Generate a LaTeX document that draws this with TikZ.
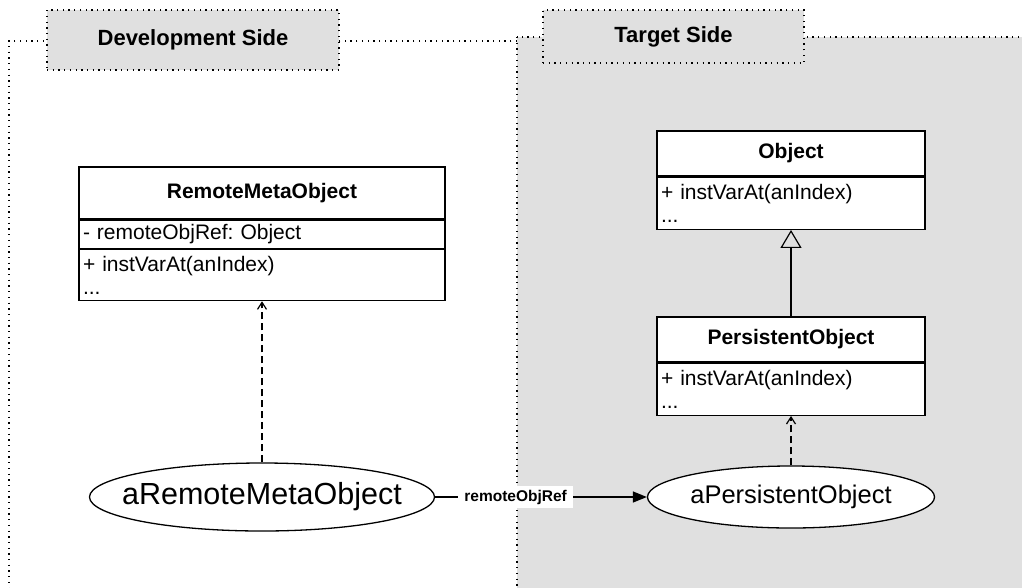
\documentclass[tikz,border=0pt]{standalone}
\usepackage{fontspec}
\setmainfont{Liberation Sans}
\usetikzlibrary{shapes.geometric,arrows.meta,positioning}

\definecolor{sidegray}{RGB}{224,224,224}

\begin{document}
\frenchspacing
\begin{tikzpicture}[x=1pt,y=-1pt,
  sideline/.style={line width=1.3pt, dash pattern=on 1.3pt off 4.4pt},
  sidetab/.style={sideline, draw, fill=sidegray, inner sep=0pt,
    font=\bfseries\fontsize{22}{26}\selectfont},
  classhead/.style={draw, line width=1.3pt, fill=white, inner sep=0pt,
    font=\bfseries\fontsize{21}{24}\selectfont},
  classrow/.style={draw, line width=1.3pt, fill=white, inner xsep=4pt,
    inner ysep=0pt, align=left, font=\fontsize{21}{23}\selectfont},
  instance/.style={ellipse, draw, line width=1.3pt, fill=white, inner sep=0pt},
  depend/.style={line width=1.3pt, dash pattern=on 7pt off 4pt,
    -{Straight Barb[length=7pt,width=9pt,line width=1.2pt]}},
  inherit/.style={line width=1.3pt,
    -{Triangle[open,length=18pt,width=21pt,line width=1.2pt]}},
  assoc/.style={line width=1.3pt, -{Triangle[length=14pt,width=11pt]}},
  linklabel/.style={fill=white, inner xsep=6pt, inner ysep=4pt,
    font=\bfseries\fontsize{15.5}{18}\selectfont}]
\useasboundingbox (0,0) rectangle (1022,587);
\clip (0,0) rectangle (1022,587);

% the two sides
\draw[sideline] (517,41) -- (9,41) -- (9,600);
\draw[sideline, fill=sidegray] (517,37) rectangle (1040,600);
\node[sidetab, minimum width=292pt, minimum height=60pt] (devtab) at (193,40) {Development Side};
\node[sidetab, minimum width=261pt, minimum height=53pt] (targettab) at (673.5,36.5) {Target Side};

% development side class
\node[classhead, minimum width=366pt, minimum height=52pt] (rmo) at (262,193) {RemoteMetaObject};
\node[classrow, text width=358pt, minimum height=28pt, below=0pt of rmo] (rmoattr) {- remoteObjRef: Object};
\node[classrow, text width=358pt, minimum height=51pt, below=0pt of rmoattr] (rmometh) {+ instVarAt(anIndex)\\...};

% target side classes
\node[classhead, minimum width=268pt, minimum height=45pt] (obj) at (791,153.5) {Object};
\node[classrow, text width=260pt, minimum height=52pt, below=0pt of obj] (objmeth) {+ instVarAt(anIndex)\\...};
\node[classhead, minimum width=268pt, minimum height=45pt] (po) at (791,339.5) {PersistentObject};
\node[classrow, text width=260pt, minimum height=52pt, below=0pt of po] (pometh) {+ instVarAt(anIndex)\\...};

% instances
\node[instance, minimum width=345pt, minimum height=68pt, font=\fontsize{30.5}{33}\selectfont] (aremote) at (262,497) {\makebox[0pt]{aRemoteMetaObject}};
\node[instance, minimum width=287pt, minimum height=62pt, font=\fontsize{25.5}{28}\selectfont] (apersist) at (791,497) {\makebox[0pt]{aPersistentObject}};

\draw[inherit] (po.north) -- (objmeth.south);
\draw[depend] (aremote.north) -- (rmometh.south);
\draw[depend] (apersist.north) -- (pometh.south);
\draw[assoc] (aremote) -- node[linklabel, pos=0.38] {remoteObjRef} (apersist);

\end{tikzpicture}
\end{document}
